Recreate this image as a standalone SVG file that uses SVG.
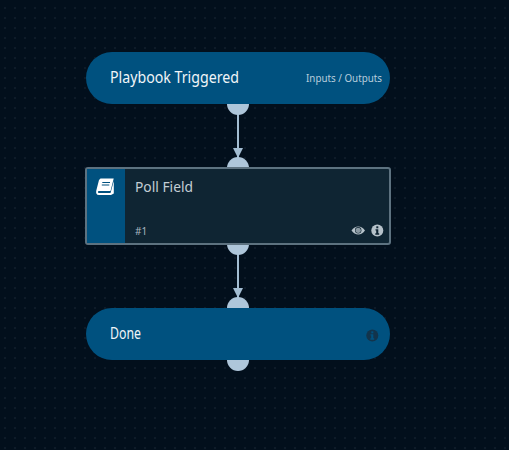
<svg xmlns="http://www.w3.org/2000/svg" width="509" height="450" viewBox="0 0 509 450">
<style>
.t{font-family:"Noto Sans","Open Sans",sans-serif}
.pill{fill:#00517f}
.port{fill:#aec6da}
.conn{stroke:#a3bdd2;stroke-width:2;fill:none;marker-end:url(#arrow)}
.title{fill:#f0f5f8;font-size:16px}
.grey{fill:#b6c2ca}
</style>
<defs>
<pattern id="dots" width="10" height="10" patternUnits="userSpaceOnUse" x="0" y="-2">
<rect x="4.500" y="9.500" width="1" height="1" fill="#2f404e"/>
<rect x="4.500" y="-0.500" width="1" height="1" fill="#2f404e"/>
</pattern>
<marker id="arrow" markerUnits="userSpaceOnUse" markerWidth="10" markerHeight="11" refX="10" refY="5" orient="auto">
<path d="M0 0L10 5L0 10z" fill="#a3bdd2"/>
</marker>
</defs>
<rect width="509" height="450" fill="#020f1c"/>
<rect width="509" height="450" fill="url(#dots)"/>
<g id="connectors">
<path class="conn" d="M238 113V158"/>
<path class="conn" d="M238 253V298"/>
</g>
<g id="node-playbook-triggered">
<circle class="port" cx="238" cy="104" r="11"/>
<rect class="pill" x="86" y="52" width="304" height="52" rx="26"/>
<text class="t title" x="110" y="83" textLength="129" lengthAdjust="spacingAndGlyphs">Playbook Triggered</text>
<text class="t" x="306" y="82" font-size="11" fill="#b9cedd" textLength="76" lengthAdjust="spacingAndGlyphs">Inputs / Outputs</text>
</g>
<g id="node-poll-field">
<circle class="port" cx="238" cy="168" r="11"/>
<circle class="port" cx="238" cy="244" r="11"/>
<rect x="86" y="168" width="304" height="76" rx="2" fill="#0f2533" stroke="#5d7280" stroke-width="2"/>
<rect x="87" y="169" width="38" height="74" fill="#00517f"/>
<path d="M100.500 178.500H113.700L110.500 191H99.500C97.300 191 97.300 193 99.500 193H110.500L113.800 181V193.500L111 195H99C96.500 195 95.700 193 96.300 190.500L99 180Z" fill="#fff"/>
<path d="M102.300 182.500H110M101.800 185H109.300" stroke="#00517f" stroke-width="1"/>
<text class="t" x="135" y="192" font-size="14" fill="#c3ced5" textLength="58" lengthAdjust="spacingAndGlyphs">Poll Field</text>
<text class="t" x="135" y="235" font-size="10" fill="#a8b6bf">#1</text>
<path class="grey" d="M351.500 230.500C355 225.300 361.500 225.300 365 230.500C361.500 235.700 355 235.700 351.500 230.500Z"/>
<circle cx="358.200" cy="230.300" r="3.200" fill="#0f2533"/>
<circle cx="358.200" cy="230.300" r="2.600" fill="#8b9aa3"/>
<circle class="grey" cx="377.300" cy="230.500" r="6"/>
<rect x="376.300" y="226.300" width="2" height="2" fill="#0f2533"/>
<path d="M375.500 229.300H378.300V233.300H379.200V234.800H375.300V233.300H376.200V230.600H375.500Z" fill="#0f2533"/>
</g>
<g id="node-done">
<circle class="port" cx="238" cy="308" r="11"/>
<circle class="port" cx="238" cy="360" r="11"/>
<rect class="pill" x="86" y="308" width="304" height="52" rx="26"/>
<text class="t title" x="110" y="339" textLength="31" lengthAdjust="spacingAndGlyphs">Done</text>
<circle cx="372.300" cy="335.500" r="6" fill="#12344c"/>
<rect x="371.300" y="331.300" width="2" height="2" fill="#00517f"/>
<path d="M370.500 334.300H373.300V338.300H374.200V339.800H370.300V338.300H371.200V335.600H370.500Z" fill="#00517f"/>
</g>
</svg>
